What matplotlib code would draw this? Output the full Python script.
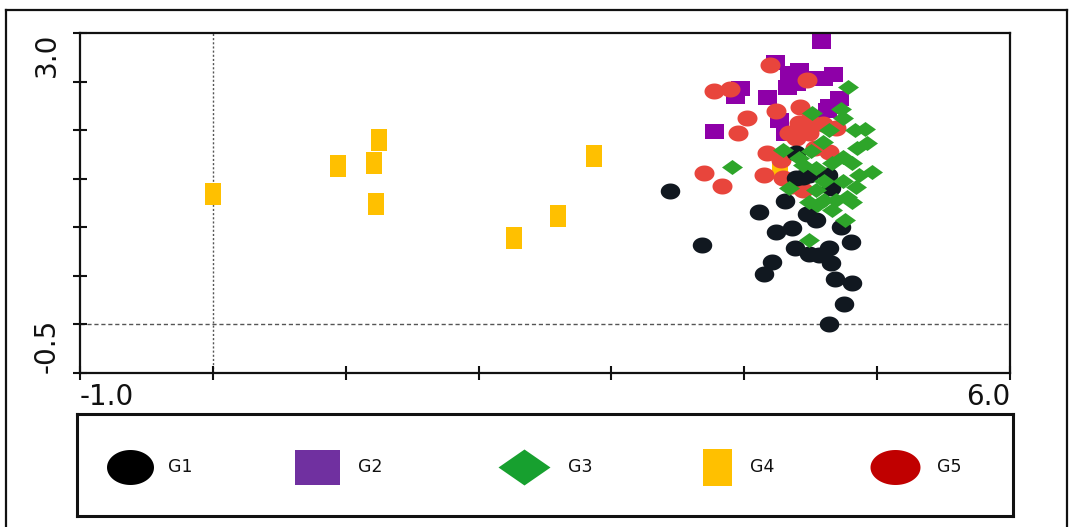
import numpy as np
import matplotlib
matplotlib.use("Agg")
import matplotlib.pyplot as plt
from matplotlib.path import Path
from matplotlib.lines import Line2D

# ---------------- data ----------------
groups = ["G1", "G2", "G3", "G4", "G5"]

g1_x = [3.44, 3.68, 4.11, 4.31, 4.24, 4.36, 4.38, 4.21, 4.15, 4.47, 4.54, 4.49, 4.56, 4.64,
        4.65, 4.73, 4.80, 4.68, 4.81, 4.75, 4.64, 4.63, 4.65, 4.44, 4.49, 4.39, 4.39]
g1_y = [1.37, 0.82, 1.16, 1.27, 0.95, 0.99, 0.79, 0.64, 0.52, 1.14, 1.07, 0.73, 0.71, 0.79,
        0.63, 1.00, 0.85, 0.47, 0.43, 0.21, 0.00, 1.54, 1.40, 1.52, 1.54, 1.76, 1.51]

g2_x = [4.58, 4.23, 4.34, 4.41, 4.32, 4.53, 4.67, 4.59, 3.97, 3.93, 4.17, 4.71, 4.64, 4.26,
        3.77, 4.31, 4.62, 4.39]
g2_y = [2.92, 2.70, 2.59, 2.62, 2.44, 2.54, 2.58, 2.54, 2.43, 2.35, 2.34, 2.33, 2.25, 2.10,
        1.99, 1.97, 2.21, 2.49]

g3_x = [4.78, 4.73, 4.74, 4.91, 4.92, 4.85, 4.96, 3.91, 4.51, 4.59, 4.29, 4.74, 4.81, 4.44,
        4.54, 4.66, 4.74, 4.84, 4.54, 4.60, 4.69, 4.77, 4.81, 4.49, 4.55, 4.66, 4.76, 4.34,
        4.49, 4.86, 4.64, 4.41, 4.60, 4.50, 4.83]
g3_y = [2.44, 2.22, 2.12, 2.01, 1.87, 1.82, 1.57, 1.62, 2.18, 1.88, 1.80, 1.72, 1.66, 1.64,
        1.61, 1.66, 1.48, 1.41, 1.38, 1.28, 1.28, 1.31, 1.26, 1.26, 1.23, 1.18, 1.07, 1.40,
        0.87, 1.54, 2.00, 1.71, 1.48, 1.79, 2.00]

g4_x = [0.00, 0.94, 1.25, 1.21, 1.23, 2.27, 2.60, 2.87, 4.27]
g4_y = [1.34, 1.63, 1.90, 1.66, 1.24, 0.89, 1.12, 1.73, 1.61]

g5_x = [4.19, 4.47, 3.77, 3.89, 4.02, 3.95, 4.24, 4.42, 4.41, 4.49, 4.59, 4.69, 4.34, 4.39,
        4.49, 4.64, 4.17, 4.28, 4.53, 3.70, 3.83, 4.15, 4.29, 4.44, 4.36]
g5_y = [2.67, 2.52, 2.40, 2.42, 2.13, 1.97, 2.20, 2.24, 2.07, 2.10, 2.06, 2.02, 1.97, 1.92,
        1.97, 1.77, 1.76, 1.69, 1.82, 1.56, 1.43, 1.54, 1.51, 1.38, 1.43]

x_ticks = [-1.0, 0.0, 1.0, 2.0, 3.0, 4.0, 5.0, 6.0]
x_tick_labels = ["-1.0", "", "", "", "", "", "", "6.0"]
y_ticks = [-0.5, 0.0, 0.5, 1.0, 1.5, 2.0, 2.5, 3.0]
y_tick_labels = ["-0.5", "", "", "", "", "", "", "3.0"]

# ---------------- styles ----------------
plot_colors = {"G1": "#111820", "G2": "#8E00A8", "G3": "#2EA52A", "G4": "#FFC000", "G5": "#E8453C"}
legend_colors = {"G1": "#000000", "G2": "#7030A0", "G3": "#17A02F", "G4": "#FFC000", "G5": "#C00000"}


def ellipse(w, h):
    t = np.linspace(0, 2 * np.pi, 72)
    v = np.column_stack([w / 2 * np.cos(t), h / 2 * np.sin(t)])
    return Path(v, closed=True)


def rect(w, h):
    v = [(-w / 2, -h / 2), (w / 2, -h / 2), (w / 2, h / 2), (-w / 2, h / 2), (-w / 2, -h / 2)]
    return Path(v, closed=True)


def diamond(w, h):
    v = [(0, -h / 2), (w / 2, 0), (0, h / 2), (-w / 2, 0), (0, -h / 2)]
    return Path(v, closed=True)


def size_for(px):
    return (0.72 * px) ** 2


plot_markers = {
    "G1": (ellipse(19.5, 16), size_for(19.5)),
    "G2": (rect(19, 15), size_for(19)),
    "G3": (diamond(21, 15), size_for(21)),
    "G4": (rect(16, 22), size_for(22)),
    "G5": (ellipse(20, 16), size_for(20)),
}
legend_markers = {
    "G1": (ellipse(47, 35), size_for(47)),
    "G2": (rect(45, 35), size_for(45)),
    "G3": (diamond(52, 36), size_for(52)),
    "G4": (rect(29, 37), size_for(37)),
    "G5": (ellipse(50, 35), size_for(50)),
}

data = {"G1": (g1_x, g1_y), "G2": (g2_x, g2_y), "G3": (g3_x, g3_y),
        "G4": (g4_x, g4_y), "G5": (g5_x, g5_y)}
draw_order = ["G2", "G4", "G5", "G1", "G3"]

W, H = 1075, 527
fig = plt.figure(figsize=(W / 100, H / 100), dpi=100)
fig.patch.set_facecolor("white")

# outer border
border_kw = dict(color="#111111", lw=1.6, transform=fig.transFigure, clip_on=False)
xl, xr, yt = 6 / W, 1067 / W, 1 - 10 / H
fig.add_artist(Line2D([xl, xl], [0, yt], **border_kw))
fig.add_artist(Line2D([xl, xr], [yt, yt], **border_kw))
fig.add_artist(Line2D([xr, xr], [0, yt], **border_kw))

# main axes
ax = fig.add_axes([80 / W, 1 - 373 / H, 930 / W, 340 / H])
ax.set_xlim(-1.0, 6.0)
ax.set_ylim(-0.5, 3.0)
for s in ax.spines.values():
    s.set_linewidth(1.6)
    s.set_color("#111111")

ax.axvline(0, color="#555555", lw=1.0, ls=(0, (1.5, 1.5)), zorder=1)
ax.axhline(0, color="#555555", lw=1.0, ls=(0, (3, 2)), zorder=1)

for i, g in enumerate(draw_order):
    xs, ys = data[g]
    m, s = plot_markers[g]
    ax.scatter(xs, ys, marker=m, s=s, color=plot_colors[g], linewidths=0, zorder=2 + i)

ax.set_xticks(x_ticks)
ax.set_xticklabels(x_tick_labels)
ax.set_yticks(y_ticks)
ax.set_yticklabels(y_tick_labels, rotation=90)
ax.tick_params(axis="both", direction="inout", length=10, width=1.5, color="#111111",
               labelsize=20, labelcolor="#111111")
ax.tick_params(axis="x", pad=2)
ax.tick_params(axis="y", pad=9)

xl_labels = ax.get_xticklabels()
xl_labels[0].set_ha("left")
xl_labels[-1].set_ha("right")
yl_labels = ax.get_yticklabels()
yl_labels[0].set_va("bottom")
yl_labels[-1].set_va("top")

# legend box
lax = fig.add_axes([77 / W, 1 - 516 / H, 936 / W, 102 / H])
lax.set_xlim(0, 936)
lax.set_ylim(102, 0)
lax.set_xticks([])
lax.set_yticks([])
for s in lax.spines.values():
    s.set_linewidth(2.2)
    s.set_color("#111111")

leg_marker_x = [53, 240, 447, 640, 818]
leg_text_x = [91, 281, 491, 673, 860]
leg_y = 53
for g, mx, tx in zip(groups, leg_marker_x, leg_text_x):
    m, s = legend_markers[g]
    lax.scatter([mx], [leg_y], marker=m, s=s, color=legend_colors[g], linewidths=0)
    lax.text(tx, leg_y, g, fontsize=12.5, color="#111111", va="center", ha="left")

fig.savefig("out.png", dpi=100, facecolor="white")
